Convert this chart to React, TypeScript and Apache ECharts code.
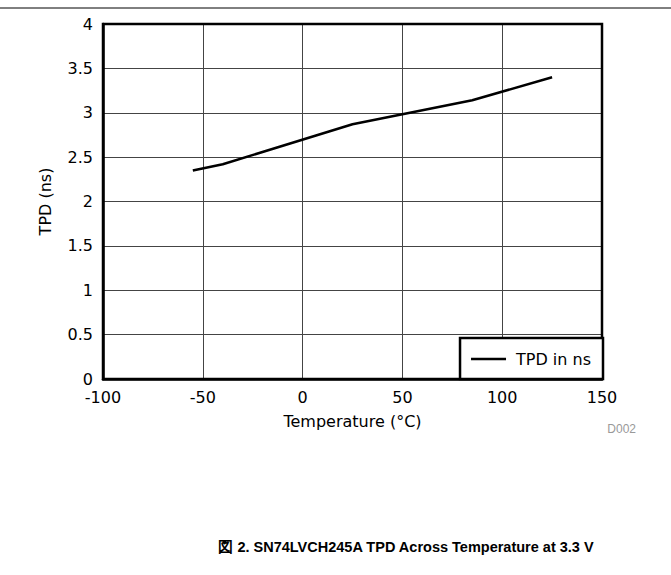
import React, { useEffect, useRef } from "react";
import * as echarts from "echarts";

const temperatures = [-55, -40, 25, 85, 125];
const tpdValues = [2.35, 2.42, 2.87, 3.14, 3.4];
const xTicks = [-100, -50, 0, 50, 100, 150];
const yTicks = [0, 0.5, 1, 1.5, 2, 2.5, 3, 3.5, 4];
const seriesName = "TPD in ns";
const xName = "Temperature (°C)";
const yName = "TPD (ns)";
const caption = "図 2. SN74LVCH245A TPD Across Temperature at 3.3 V";
const figId = "D002";

export default function App() {
  const ref = useRef<HTMLDivElement>(null);
  useEffect(() => {
    if (!ref.current) return;
    const chart = echarts.init(ref.current, null, { renderer: "svg" });
    const font = "DejaVu Sans, sans-serif";
    const capFont = "Liberation Sans, Arial, sans-serif";
    chart.setOption({
      animation: false,
      backgroundColor: "#fff",
      textStyle: { fontFamily: font },
      grid: { left: 103, right: 69, top: 24, bottom: 196, show: false },
      xAxis: {
        type: "value",
        min: xTicks[0],
        max: xTicks[xTicks.length - 1],
        interval: 50,
        name: xName,
        nameLocation: "middle",
        nameGap: 34,
        nameTextStyle: { fontSize: 16, color: "#000", fontFamily: font },
        axisLine: { show: true, onZero: false, lineStyle: { color: "#000", width: 2.5 } },
        axisTick: { show: false },
        axisLabel: { fontSize: 16, color: "#000", margin: 10, fontFamily: font },
        splitLine: { show: true, lineStyle: { color: "#444", width: 1 } },
      },
      yAxis: {
        type: "value",
        min: yTicks[0],
        max: yTicks[yTicks.length - 1],
        interval: 0.5,
        name: yName,
        nameLocation: "middle",
        nameGap: 50,
        nameTextStyle: { fontSize: 16, color: "#000", fontFamily: font },
        axisLine: { show: true, onZero: false, lineStyle: { color: "#000", width: 2.5 } },
        axisTick: { show: false },
        axisLabel: { fontSize: 16, color: "#000", margin: 10, fontFamily: font },
        splitLine: { show: true, lineStyle: { color: "#444", width: 1 } },
      },
      legend: {
        data: [{ name: seriesName, icon: "rect" }],
        right: 68,
        bottom: 196,
        orient: "vertical",
        backgroundColor: "#fff",
        borderColor: "#000",
        borderWidth: 2.5,
        borderRadius: 0,
        padding: [13, 12, 12, 11],
        itemWidth: 35,
        itemHeight: 2.5,
        itemGap: 0,
        textStyle: { fontSize: 16, color: "#000", fontFamily: font, padding: [0, 0, 0, 5] },
        z: 10,
      },
      graphic: [
        {
          type: "line",
          shape: { x1: 0, y1: 8, x2: 671, y2: 8 },
          style: { stroke: "#000", lineWidth: 1 },
        },
        {
          type: "rect",
          shape: { x: 103, y: 24, width: 499, height: 355 },
          style: { fill: "none", stroke: "#000", lineWidth: 2.5 },
          z: 5,
        },
        {
          type: "text",
          x: 636,
          y: 429,
          style: { text: figId, fill: "#999", fontSize: 12, fontFamily: capFont, align: "right", verticalAlign: "middle" },
        },
        {
          type: "text",
          x: 406,
          y: 547,
          style: {
            text: caption,
            fill: "#000",
            fontSize: 14.5,
            fontWeight: "bold",
            fontFamily: capFont,
            align: "center",
            verticalAlign: "middle",
          },
        },
      ],
      series: [
        {
          name: seriesName,
          type: "line",
          data: temperatures.map((t, i) => [t, tpdValues[i]]),
          symbol: "none",
          itemStyle: { color: "#000" },
          lineStyle: { color: "#000", width: 2.5 },
          z: 3,
        },
      ],
    });
    return () => chart.dispose();
  }, []);
  return (
    <div
      ref={ref}
      style={{ position: "absolute", left: 0, top: 0, width: 671, height: 575 }}
    />
  );
}
